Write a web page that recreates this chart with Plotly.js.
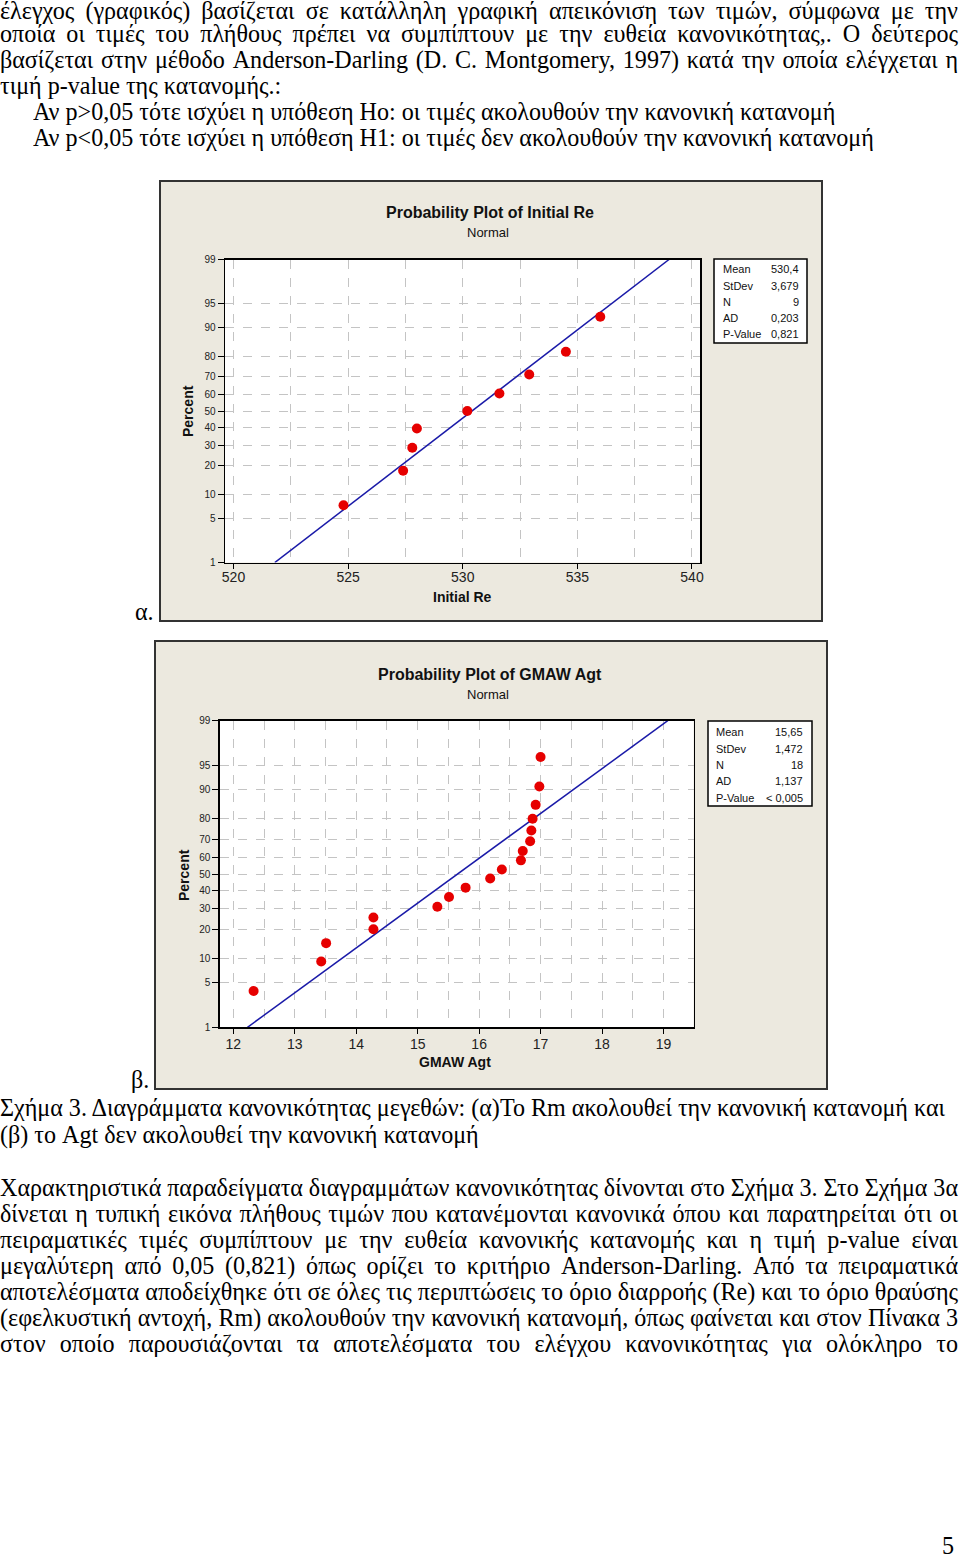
<!DOCTYPE html>
<html>
<head>
<meta charset="utf-8">
<script src="https://cdn.plot.ly/plotly-3.0.1.min.js"></script>
<style>
  html, body { margin: 0; padding: 0; background: #ffffff; }
  #page { position: relative; width: 960px; height: 1561px; overflow: hidden; }
  #chart { position: absolute; left: 0; top: 0; width: 960px; height: 1561px; }
  .ln { position: absolute; font-family: "Liberation Serif", "Times New Roman", serif; font-size: 25px;
        line-height: 22px; color: #000; transform-origin: 0 0; white-space: nowrap; }
</style>
</head>
<body>
<div id="page">
  <div id="chart"></div>
  <div id="text"></div>
</div>
<script>
// ---------------- data ----------------
const pctTicks = [1, 5, 10, 20, 30, 40, 50, 60, 70, 80, 90, 95, 99];
const fitPct = [1, 99];

// Plot (a): Initial Re
const reX   = [524.8, 527.4, 527.8, 528.0, 530.2, 531.6, 532.9, 534.5, 536.0];
const rePct = [7.4, 18.0, 28.7, 39.4, 50.0, 60.6, 71.3, 81.9, 92.6];
const reFitX = [521.8, 539.0];
const reStatLabels = ["Mean", "StDev", "N", "AD", "P-Value"];
const reStatValues = ["530,4", "3,679", "9", "0,203", "0,821"];

// Plot (b): GMAW Agt
const agtX   = [12.33, 13.43, 13.51, 14.28, 14.28, 15.32, 15.51, 15.78, 16.18,
                16.37, 16.68, 16.71, 16.83, 16.85, 16.87, 16.92, 16.98, 17.00];
const agtPct = [3.8, 9.2, 14.7, 20.1, 25.5, 31.0, 36.4, 41.8, 47.3,
                52.7, 58.2, 63.6, 69.0, 74.5, 79.9, 85.3, 90.8, 96.2];
const agtFitX = [12.23, 19.07];
const agtStatLabels = ["Mean", "StDev", "N", "AD", "P-Value"];
const agtStatValues = ["15,65", "1,472", "18", "1,137", "< 0,005"];

// ---------------- normal probability scale ----------------
function probit(p) {
  const a = [-3.969683028665376e+01, 2.209460984245205e+02, -2.759285104469687e+02, 1.383577518672690e+02, -3.066479806614716e+01, 2.506628277459239e+00];
  const b = [-5.447609879822406e+01, 1.615858368580409e+02, -1.556989798598866e+02, 6.680131188771972e+01, -1.328068155288572e+01];
  const c = [-7.784894002430293e-03, -3.223964580411365e-01, -2.400758277161838e+00, -2.549732539343734e+00, 4.374664141464968e+00, 2.938163982698783e+00];
  const d = [7.784695709041462e-03, 3.224671290700398e-01, 2.445134137142996e+00, 3.754408661907416e+00];
  const plow = 0.02425, phigh = 1 - plow;
  let q, r;
  if (p < plow) {
    q = Math.sqrt(-2 * Math.log(p));
    return (((((c[0]*q+c[1])*q+c[2])*q+c[3])*q+c[4])*q+c[5]) / ((((d[0]*q+d[1])*q+d[2])*q+d[3])*q+1);
  } else if (p <= phigh) {
    q = p - 0.5; r = q*q;
    return (((((a[0]*r+a[1])*r+a[2])*r+a[3])*r+a[4])*r+a[5])*q / (((((b[0]*r+b[1])*r+b[2])*r+b[3])*r+b[4])*r+1);
  } else {
    q = Math.sqrt(-2 * Math.log(1 - p));
    return -(((((c[0]*q+c[1])*q+c[2])*q+c[3])*q+c[4])*q+c[5]) / ((((d[0]*q+d[1])*q+d[2])*q+d[3])*q+1);
  }
}
const z = arr => arr.map(v => probit(v / 100));

// ---------------- layout helpers ----------------
const W = 960, H = 1561;
const px = x => x / W;
const py = y => 1 - y / H;

const gridColor = '#c4c4c4';
const dotColor = '#e60000';
const lineColor = '#1a1aa8';
const sans = 'Liberation Sans, Arial, sans-serif';

function yAxis(top, bottom, anchor) {
  return {
    domain: [py(bottom), py(top)], anchor: anchor,
    range: [probit(0.01), probit(0.99)],
    tickmode: 'array', tickvals: z(pctTicks), ticktext: pctTicks.map(String),
    ticks: 'outside', ticklen: 6, tickcolor: '#000', tickwidth: 1,
    tickfont: { family: sans, size: 10, color: '#222' },
    showgrid: true, gridcolor: gridColor, griddash: 'dash', gridwidth: 1,
    zeroline: false, showline: true, linecolor: '#000', linewidth: 1.5, mirror: true,
    fixedrange: true
  };
}
function xAxis(left, right, range, dtick, minor, anchor, standoff) {
  return {
    domain: [px(left), px(right)], anchor: anchor, range: range,
    tickmode: 'linear', tick0: 0, dtick: dtick,
    ticks: 'outside', ticklen: 5, tickcolor: '#000', tickwidth: 1,
    ticklabelstandoff: standoff,
    tickfont: { family: sans, size: 14, color: '#222' },
    showgrid: true, gridcolor: gridColor, griddash: 'dash', gridwidth: 1,
    minor: { dtick: minor, tick0: 0, showgrid: true, gridcolor: gridColor, griddash: 'dash', gridwidth: 1, ticks: '' },
    zeroline: false, showline: true, linecolor: '#000', linewidth: 1.5, mirror: true,
    fixedrange: true
  };
}

const traces = [
  { x: reFitX, y: z(fitPct), xaxis: 'x', yaxis: 'y', mode: 'lines', line: { color: lineColor, width: 1.5 }, hoverinfo: 'skip' },
  { x: reX, y: z(rePct), xaxis: 'x', yaxis: 'y', mode: 'markers', marker: { color: dotColor, size: 10 } },
  { x: agtFitX, y: z(fitPct), xaxis: 'x2', yaxis: 'y2', mode: 'lines', line: { color: lineColor, width: 1.5 }, hoverinfo: 'skip' },
  { x: agtX, y: z(agtPct), xaxis: 'x2', yaxis: 'y2', mode: 'markers', marker: { color: dotColor, size: 10 } }
];

const shapes = [
  // grey panels
  { type: 'rect', xref: 'paper', yref: 'paper', x0: px(160), x1: px(822), y0: py(621), y1: py(181),
    fillcolor: '#ece9df', line: { color: '#333', width: 2 }, layer: 'below' },
  { type: 'rect', xref: 'paper', yref: 'paper', x0: px(155), x1: px(827), y0: py(1089), y1: py(641),
    fillcolor: '#ece9df', line: { color: '#333', width: 2 }, layer: 'below' },
  // plot backgrounds
  { type: 'rect', xref: 'paper', yref: 'paper', x0: px(225), x1: px(700), y0: py(562.6), y1: py(259.5),
    fillcolor: '#ffffff', line: { width: 0 }, layer: 'below' },
  { type: 'rect', xref: 'paper', yref: 'paper', x0: px(219.8), x1: px(693.6), y0: py(1027.3), y1: py(720.7),
    fillcolor: '#ffffff', line: { width: 0 }, layer: 'below' },
  // stats boxes
  { type: 'rect', xref: 'paper', yref: 'paper', x0: px(714), x1: px(807), y0: py(343), y1: py(259),
    fillcolor: '#ffffff', line: { color: '#000', width: 1.5 } },
  { type: 'rect', xref: 'paper', yref: 'paper', x0: px(708), x1: px(812), y0: py(806), y1: py(721),
    fillcolor: '#ffffff', line: { color: '#000', width: 1.5 } }
];

const annotations = [];
function ann(text, x, y, size, opts) {
  annotations.push(Object.assign({
    text: text, xref: 'paper', yref: 'paper', x: px(x), y: py(y),
    xanchor: 'center', yanchor: 'middle', showarrow: false,
    font: { family: sans, size: size, color: '#111' }
  }, opts || {}));
}
// plot (a) texts
ann('<b>Probability Plot of Initial Re</b>', 490, 212, 16);
ann('Normal', 488, 232, 13);
ann('<b>Initial Re</b>', 462, 597, 14);
ann('<b>Percent</b>', 188, 411, 14, { textangle: -90 });
// plot (b) texts
ann('<b>Probability Plot of GMAW Agt</b>', 490, 674, 16);
ann('Normal', 488, 694, 13);
ann('<b>GMAW Agt</b>', 455, 1062, 14);
ann('<b>Percent</b>', 184, 875, 14, { textangle: -90 });
// stats
const rows1 = [269.5, 285.5, 301.5, 317.5, 333.5];
reStatLabels.forEach((t, i) => {
  ann(t, 721, rows1[i], 11, { xanchor: 'left' });
  ann(reStatValues[i], 801, rows1[i], 11, { xanchor: 'right' });
});
const rows2 = [732, 748.5, 765, 781, 797.5];
agtStatLabels.forEach((t, i) => {
  ann(t, 714, rows2[i], 11, { xanchor: 'left' });
  ann(agtStatValues[i], 805, rows2[i], 11, { xanchor: 'right' });
});

const layout = {
  width: W, height: H, margin: { l: 0, r: 0, t: 0, b: 0 },
  paper_bgcolor: 'rgba(0,0,0,0)', plot_bgcolor: 'rgba(0,0,0,0)',
  showlegend: false,
  xaxis: xAxis(225, 700, [519.63, 540.35], 5, 2.5, 'y', -4),
  yaxis: yAxis(259.5, 562.6, 'x'),
  xaxis2: xAxis(219.8, 693.6, [11.78, 19.49], 1, 0.5, 'y2', -2),
  yaxis2: yAxis(720.7, 1027.3, 'x2'),
  shapes: shapes, annotations: annotations
};

Plotly.newPlot('chart', traces, layout, { displayModeBar: false, staticPlot: true });

// ---------------- page text ----------------
const lines = [
  { t: "έλεγχος (γραφικός) βασίζεται σε κατάλληλη γραφική απεικόνιση των τιμών, σύμφωνα με την", x: 0, c: 12, j: true },
  { t: "οποία οι τιμές του πλήθους πρέπει να συμπίπτουν με την ευθεία κανονικότητας,. Ο δεύτερος", x: 0, c: 37, j: true },
  { t: "βασίζεται στην μέθοδο Anderson-Darling (D. C. Montgomery, 1997) κατά την οποία ελέγχεται η", x: 0, c: 63, j: true },
  { t: "τιμή p-value της κατανομής.:", x: 0, c: 89, j: false },
  { t: "Αν p>0,05 τότε ισχύει η υπόθεση Ho: οι τιμές ακολουθούν την κανονική κατανομή", x: 33, c: 115, j: false },
  { t: "Αν p<0,05 τότε ισχύει η υπόθεση H1: οι τιμές δεν ακολουθούν την κανονική κατανομή", x: 33, c: 141, j: false },
  { t: "α.", x: 135, c: 615, j: false },
  { t: "β.", x: 131, c: 1083, j: false },
  { t: "Σχήμα 3. Διαγράμματα κανονικότητας μεγεθών: (α)Το Rm ακολουθεί την κανονική κατανομή και", x: 0, c: 1111, j: false, ref: 945 },
  { t: "(β) το Agt δεν ακολουθεί την κανονική κατανομή", x: 0, c: 1138, j: false },
  { t: "Χαρακτηριστικά παραδείγματα διαγραμμάτων κανονικότητας δίνονται στο Σχήμα 3. Στο Σχήμα 3α", x: 0, c: 1191, j: true },
  { t: "δίνεται η τυπική εικόνα πλήθους τιμών που κατανέμονται κανονικά όπου και παρατηρείται ότι οι", x: 0, c: 1217, j: true },
  { t: "πειραματικές τιμές συμπίπτουν με την ευθεία κανονικής κατανομής και η τιμή p-value είναι", x: 0, c: 1243, j: true },
  { t: "μεγαλύτερη από 0,05 (0,821) όπως ορίζει το κριτήριο Anderson-Darling. Από τα πειραματικά", x: 0, c: 1269, j: true },
  { t: "αποτελέσματα αποδείχθηκε ότι σε όλες τις περιπτώσεις το όριο διαρροής (Re) και το όριο θραύσης", x: 0, c: 1295, j: true },
  { t: "(εφελκυστική αντοχή, Rm) ακολουθούν την κανονική κατανομή, όπως φαίνεται και στον Πίνακα 3", x: 0, c: 1321, j: true },
  { t: "στον οποίο παρουσιάζονται τα αποτελέσματα του ελέγχου κανονικότητας για ολόκληρο το", x: 0, c: 1347, j: true },
  { t: "5", x: 942, c: 1549, j: false }
];

const holder = document.getElementById('text');
function naturalWidth(t) {
  const m = document.createElement('span');
  m.className = 'ln';
  m.style.visibility = 'hidden';
  m.textContent = t;
  holder.appendChild(m);
  const w = m.getBoundingClientRect().width || 1;
  holder.removeChild(m);
  return w;
}
// horizontal compression of the scanned page, from the caption line (natural width, ends at x=945)
const s = 945 / naturalWidth(lines.find(l => l.ref).t);

lines.forEach(l => {
  const d = document.createElement('div');
  d.className = 'ln';
  d.textContent = l.t;
  d.style.left = l.x + 'px';
  d.style.top = Math.max(0, l.c - 13.7) + 'px';
  d.style.transform = 'scaleX(' + s.toFixed(4) + ')';
  if (l.j) {
    // justify by spreading the spaces so the line spans to the right margin
    const target = (958 - l.x) / s;
    const w = naturalWidth(l.t);
    const gaps = (l.t.match(/ /g) || []).length || 1;
    d.style.wordSpacing = ((target - w) / gaps).toFixed(3) + 'px';
  }
  holder.appendChild(d);
});
</script>
</body>
</html>
